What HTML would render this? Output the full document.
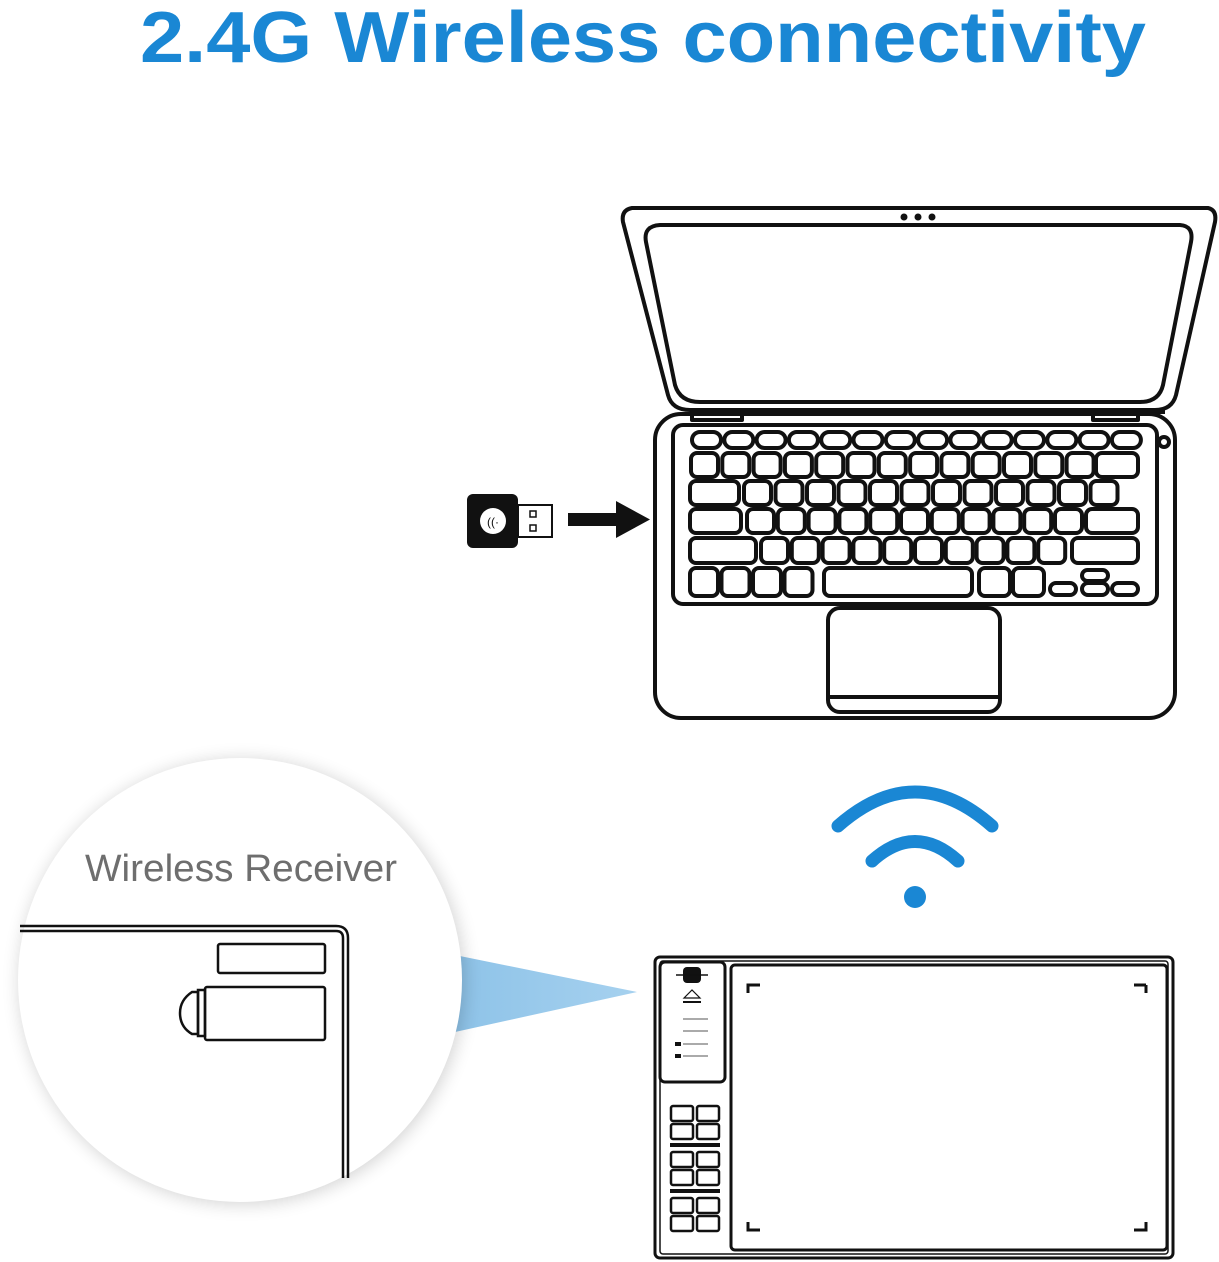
<!DOCTYPE html>
<html><head><meta charset="utf-8"><style>
html,body{margin:0;padding:0;background:#fff;width:1219px;height:1262px;overflow:hidden}
svg{display:block}
</style></head><body>
<svg id="s" width="1219" height="1262" viewBox="0 0 1219 1262" xmlns="http://www.w3.org/2000/svg">
<defs>
<filter id="sh" x="-20%" y="-20%" width="140%" height="140%"><feGaussianBlur stdDeviation="9"/></filter>
<linearGradient id="bg" x1="0" x2="1" y1="0" y2="0"><stop offset="0" stop-color="#8ec3e8"/><stop offset="1" stop-color="#a6d1ef"/></linearGradient>
</defs>
<text x="643" y="62" text-anchor="middle" font-family="Liberation Sans, sans-serif" font-weight="bold" font-size="72" fill="#1a87d4" textLength="1006" lengthAdjust="spacingAndGlyphs">2.4G Wireless connectivity</text>

<g fill="none" stroke="#111" stroke-width="4" stroke-linejoin="round">
<path d="M632,208 L1208,208 Q1217,210 1215,222 L1176,395 Q1172,410 1155,410 L690,410 Q672,410 668,395 L623,222 Q621,210 632,208 Z"/>
<path d="M660,225 L1180,225 Q1194,226 1191,242 L1163,385 Q1159,402 1140,402 L700,402 Q680,402 675,385 L646,242 Q643,226 660,225 Z"/>
<path d="M692,412 L1165,412 M692,412 L692,420 L742,420 L742,412 M1093,412 L1093,420 L1138,420 L1138,412"/>
<rect x="655" y="414" width="520" height="304" rx="26"/>
<rect x="673" y="425" width="484" height="179" rx="10"/>
<rect x="828" y="608" width="172" height="104" rx="12"/>
<line x1="830" y1="697" x2="998" y2="697"/>
<circle cx="1164" cy="442" r="5"/>
</g>
<circle cx="904" cy="217" r="3.5" fill="#111"/><circle cx="918" cy="217" r="3.5" fill="#111"/><circle cx="932" cy="217" r="3.5" fill="#111"/>
<g id="keys" fill="none" stroke="#111" stroke-width="4"></g>

<rect x="467" y="494" width="51" height="54" rx="6" fill="#111"/>
<rect x="518" y="505" width="34" height="32" fill="#fff" stroke="#111" stroke-width="2"/>
<rect x="530" y="511" width="6" height="6" fill="none" stroke="#111" stroke-width="1.5"/>
<rect x="530" y="525" width="6" height="6" fill="none" stroke="#111" stroke-width="1.5"/>
<circle cx="493" cy="521" r="13" fill="#fff"/>
<text x="493" y="526" text-anchor="middle" font-family="Liberation Sans, sans-serif" font-size="12" fill="#111">((·</text>
<rect x="568" y="513" width="50" height="13" fill="#111"/>
<polygon points="616,501 650,519.5 616,538" fill="#111"/>

<g fill="none" stroke="#1a87d4" stroke-width="13" stroke-linecap="round">
<path d="M838,826 Q915,758 992,826"/>
<path d="M872,861 Q915,822 958,861"/>
</g>
<circle cx="915" cy="897" r="11" fill="#1a87d4"/>

<polygon points="455,955 637,992 455,1032" fill="url(#bg)"/>
<circle cx="242" cy="982" r="222" fill="#000" opacity="0.18" filter="url(#sh)"/>
<circle cx="240" cy="980" r="222" fill="#fff"/>
<text x="241" y="881" text-anchor="middle" font-family="Liberation Sans, sans-serif" font-size="38" fill="#6e6e6e" textLength="312" lengthAdjust="spacingAndGlyphs">Wireless Receiver</text>
<g fill="none" stroke="#111" stroke-width="2.5">
<path d="M20,926 L336,926 Q348,926 348,938 L348,1178"/>
<path d="M20,931 L336,931 Q343,931 343,938 L343,1178"/>
<rect x="218" y="944" width="107" height="29" rx="2"/>
<rect x="205" y="987" width="120" height="53" rx="2"/>
<path d="M198,992 L192,992 Q180,1000 180,1013 Q180,1027 192,1034 L198,1034 Z"/>
<rect x="198" y="990" width="7" height="46"/>
</g>

<g fill="none" stroke="#111" stroke-width="3">
<rect x="655" y="957" width="518" height="301" rx="5"/>
<rect x="660" y="961" width="508" height="293" rx="3" stroke-width="1.5"/>
<rect x="731" y="965" width="436" height="285" rx="4"/>
<rect x="660" y="962" width="65" height="120" rx="5"/>
<path d="M748,993 L748,985 L760,985 M1146,985 L1134,985 M1146,985 L1146,993 M748,1222 L748,1230 L760,1230 M1146,1222 L1146,1230 L1134,1230"/>
</g>
<rect x="683" y="967" width="18" height="16" rx="4" fill="#111"/>
<line x1="676" y1="975" x2="708" y2="975" stroke="#111" stroke-width="1.5"/>
<path d="M684,998 L692,990 L700,998 Z" fill="none" stroke="#111" stroke-width="1.2"/>
<rect x="683" y="1001" width="18" height="2" fill="#111"/>
<g stroke="#555" stroke-width="1"><line x1="683" y1="1019" x2="708" y2="1019"/><line x1="683" y1="1031" x2="708" y2="1031"/><line x1="683" y1="1044" x2="708" y2="1044"/><line x1="683" y1="1056" x2="708" y2="1056"/></g>
<rect x="675" y="1042" width="6" height="4" fill="#111"/><rect x="675" y="1054" width="6" height="4" fill="#111"/>
<g id="tk" fill="none" stroke="#111" stroke-width="2.5"></g>
<rect x="670" y="1143" width="50" height="4" fill="#111"/>
<rect x="670" y="1189" width="50" height="4" fill="#111"/>
</svg>
<script>
var k=document.getElementById('keys'),h='';
function r(x,y,w,hh,rx){h+='<rect x="'+x+'" y="'+y+'" width="'+w+'" height="'+hh+'" rx="'+(rx||6)+'"/>';}
for(var i=0;i<14;i++)r(692+i*32.3,432,29,16,8);
for(i=0;i<13;i++)r(691+i*31.3,453,27,24);
r(1096,453,42,24);
r(690,481,49,24);for(i=0;i<12;i++)r(744+i*31.5,481,27,24);
r(690,509,51,24);for(i=0;i<11;i++)r(747+i*30.8,509,27,24);r(1086,509,52,24);
r(690,538,66,25);for(i=0;i<10;i++)r(761+i*30.8,538,27,25);r(1072,538,66,25);
for(i=0;i<4;i++)r(690+i*31.5,568,28,28);r(824,568,148,28);r(979,568,31,28);r(1013,568,31,28);
r(1050,583,26,12,6);r(1082,570,26,11,5.5);r(1082,583,26,12,6);r(1112,583,26,12,6);
k.innerHTML=h;
var t=document.getElementById('tk');h='';
[1106,1124,1152,1170,1198,1216].forEach(function(y){r(671,y,22,15,2);r(697,y,22,15,2);});
t.innerHTML=h;
</script>
</body></html>
